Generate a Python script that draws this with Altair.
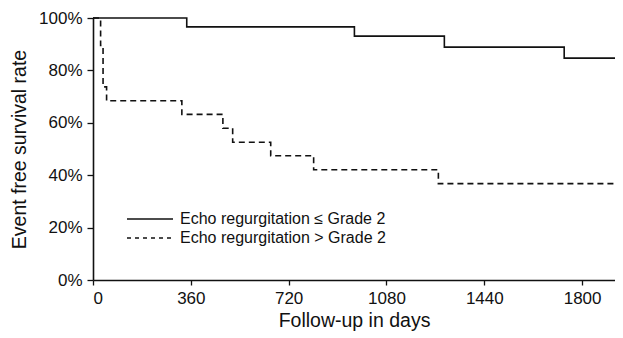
import altair as alt
import pandas as pd

# Kaplan-Meier step data (days, survival %)
solid_days = [0, 345, 962, 1293, 1734, 1921]
solid_surv = [100, 96.6, 93.1, 88.9, 84.7, 84.7]
dashed_days = [0, 28, 37, 50, 327, 478, 514, 654, 812, 1271, 1921]
dashed_surv = [100, 89.5, 73.7, 68.4, 63.2, 57.9, 52.6, 47.4, 42.1, 36.8, 36.8]
series_names = ["Echo regurgitation \u2264 Grade 2", "Echo regurgitation > Grade 2"]
x_ticks = [0, 360, 720, 1080, 1440, 1800]
y_ticks = [0, 20, 40, 60, 80, 100]

solid_df = pd.DataFrame({"day": solid_days, "surv": solid_surv, "group": series_names[0]})
dashed_df = pd.DataFrame({"day": dashed_days, "surv": dashed_surv, "group": series_names[1]})

xs = alt.Scale(domain=[0, 1921], nice=False, zero=False)
ys = alt.Scale(domain=[0, 100], nice=False)

x_enc = alt.X("day:Q", scale=xs, axis=alt.Axis(values=x_ticks, title="Follow-up in days", format="d"))
y_enc = alt.Y("surv:Q", scale=ys, axis=alt.Axis(values=y_ticks, title="Event free survival rate",
                                                labelExpr="datum.value + '%'"))

solid = alt.Chart(solid_df).mark_line(interpolate="step-after", color="#111", strokeWidth=1.6).encode(x=x_enc, y=y_enc)
dashed = alt.Chart(dashed_df).mark_line(interpolate="step-after", color="#111", strokeWidth=1.6,
                                        strokeDash=[6, 4]).encode(x=x_enc, y=y_enc)

leg_solid = alt.Chart(pd.DataFrame({"t": [series_names[0]]})).mark_rule(color="#111", strokeWidth=1.4).encode(
    x=alt.value(34), x2=alt.value(80), y=alt.value(201))
leg_dashed = alt.Chart(pd.DataFrame({"t": [series_names[1]]})).mark_rule(color="#111", strokeWidth=1.4,
                                                                          strokeDash=[4, 4]).encode(
    x=alt.value(34), x2=alt.value(80), y=alt.value(220))
leg_text1 = alt.Chart(pd.DataFrame({"t": [series_names[0]]})).mark_text(
    align="left", baseline="middle", fontSize=16, font="Liberation Sans", color="#111").encode(
    x=alt.value(87), y=alt.value(201), text="t:N")
leg_text2 = alt.Chart(pd.DataFrame({"t": [series_names[1]]})).mark_text(
    align="left", baseline="middle", fontSize=16, font="Liberation Sans", color="#111").encode(
    x=alt.value(87), y=alt.value(220), text="t:N")

chart = alt.layer(solid, dashed, leg_solid, leg_dashed, leg_text1, leg_text2).properties(
    width=522, height=262,
    autosize=alt.AutoSizeParams(type="none"),
    padding={"left": 85, "top": 10, "right": 0, "bottom": 54},
).configure_view(stroke=None).configure_axis(
    grid=False, domainColor="#111", domainWidth=1.6, tickColor="#111", tickWidth=1.3,
    labelFont="Liberation Sans", titleFont="Liberation Sans", labelFontSize=17, titleFontSize=19.5,
    labelColor="#111", titleColor="#111", titleFontWeight="normal"
).configure_axisY(tickSize=6, labelPadding=5, titlePadding=9).configure_axisX(
    tickSize=5, labelPadding=5, titlePadding=5)

chart.save("out.html", embed_options={"renderer": "svg", "actions": False})
